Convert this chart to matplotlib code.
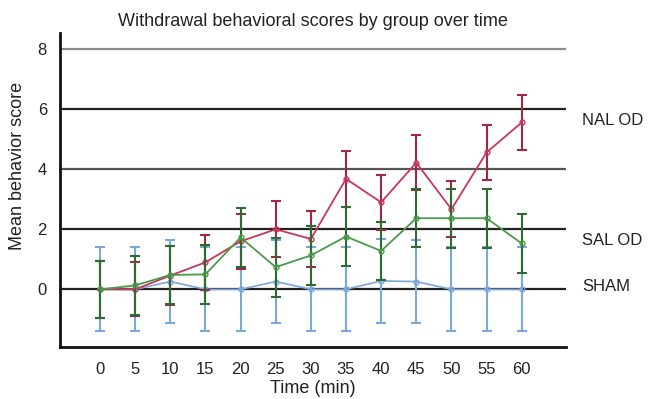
import matplotlib.pyplot as plt

# minutes after injection
times = [0, 5, 10, 15, 20, 25, 30, 35, 40, 45, 50, 55, 60]

nal_mean = [0, 0, 0.46, 0.9, 1.6, 2.0, 1.68, 3.68, 2.9, 4.22, 2.67, 4.56, 5.56]
nal_err = [0.95, 0.9, 0.98, 0.92, 0.92, 0.93, 0.92, 0.92, 0.92, 0.92, 0.93, 0.93, 0.93]

sal_mean = [0, 0.13, 0.48, 0.5, 1.73, 0.74, 1.13, 1.76, 1.28, 2.37, 2.37, 2.37, 1.53]
sal_err = [0.95, 0.98, 0.98, 0.98, 0.98, 0.98, 0.99, 0.98, 0.97, 0.97, 0.98, 0.98, 0.99]

sham_mean = [0, 0, 0.26, 0, 0, 0.26, 0, 0, 0.28, 0.26, 0, 0, 0]
sham_err = [1.4, 1.4, 1.39, 1.4, 1.4, 1.39, 1.4, 1.4, 1.39, 1.39, 1.4, 1.4, 1.4]

group_names = ["NAL OD", "SAL OD", "SHAM"]
label_y = [5.62, 1.64, 0.08]

plt.rcParams['font.family'] = ['Liberation Sans', 'DejaVu Sans']
fig = plt.figure(figsize=(6.52, 3.99), dpi=100)
ax = fig.add_axes([59.5/652, 1-347/399, (566-59.5)/652, (347-33)/399])

# horizontal reference lines
for yv, c in [(8, '#8a8a8a'), (6, '#222222'), (4, '#555555'), (2, '#222222'), (0, '#222222')]:
    ax.axhline(yv, color=c, lw=1.6, zorder=1)

ax.errorbar(times, sham_mean, yerr=sham_err, color='#7aa7dc', ecolor='#7aa7dc',
            marker='o', ms=3.5, mfc='none', lw=1.2, elinewidth=1.5, capsize=3.5, capthick=1.5, zorder=2)
ax.errorbar(times, nal_mean, yerr=nal_err, color='#c8365a', ecolor='#a0283f',
            marker='o', ms=3.5, mfc='none', lw=1.3, elinewidth=1.5, capsize=3.5, capthick=1.5, zorder=3)
ax.errorbar(times, sal_mean, yerr=sal_err, color='#4a9a4a', ecolor='#2e6b2e',
            marker='o', ms=3.5, mfc='none', lw=1.3, elinewidth=1.5, capsize=3.5, capthick=1.5, zorder=4)

ax.set_xlim(-5.76, 66.3)
ax.set_ylim(-1.92, 8.54)
ax.set_xticks(times)
ax.set_yticks([0, 2, 4, 6, 8])
ax.tick_params(length=0, labelsize=12, colors='#222222')
ax.tick_params(axis='y', pad=9)
ax.tick_params(axis='x', pad=11)
for s in ['top', 'right']:
    ax.spines[s].set_visible(False)
for s in ['left', 'bottom']:
    ax.spines[s].set_linewidth(2)
    ax.spines[s].set_color('#111111')

for name, yv in zip(group_names, label_y):
    ax.text(68.6, yv, name, fontsize=12, va='center', ha='left', color='#222222', clip_on=False)

ax.set_xlabel("Time (min)", fontsize=13, color='#222222')
ax.xaxis.set_label_coords(0.5, -0.104)
ax.set_ylabel("Mean behavior score", fontsize=13, color='#222222')
ax.yaxis.set_label_coords(-0.066, 0.576)
ax.set_title("Withdrawal behavioral scores by group over time", fontsize=13, pad=5, color='#222222')

fig.savefig("out.png", dpi=100)
